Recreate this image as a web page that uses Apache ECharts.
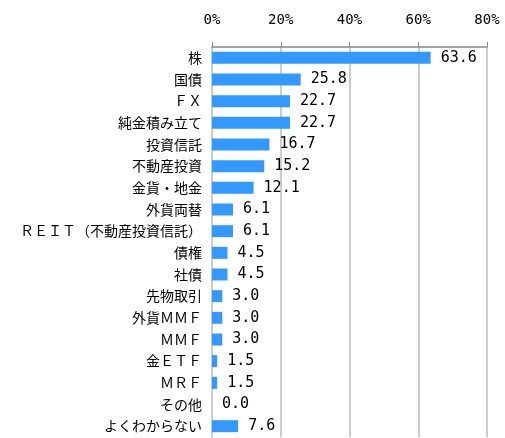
<!DOCTYPE html>
<html>
<head>
<meta charset="utf-8">
<script src="https://cdn.jsdelivr.net/npm/echarts@6/dist/echarts.min.js"></script>
<style>
  html, body { margin: 0; padding: 0; background: #fff; }
  #chart { width: 505px; height: 438px; }
</style>
</head>
<body>
<div id="chart"></div>
<script>
// 項目名（上から順）
const categories = [
  '株', '国債', 'ＦＸ', '純金積み立て', '投資信託', '不動産投資', '金貨・地金',
  '外貨両替', 'ＲＥＩＴ（不動産投資信託）', '債権', '社債', '先物取引',
  '外貨ＭＭＦ', 'ＭＭＦ', '金ＥＴＦ', 'ＭＲＦ', 'その他', 'よくわからない'
]
// 割合（%）
const values = [63.6, 25.8, 22.7, 22.7, 16.7, 15.2, 12.1, 6.1, 6.1, 4.5, 4.5, 3.0, 3.0, 3.0, 1.5, 1.5, 0.0, 7.6]
// 目盛り
const xTicks = [0, 20, 40, 60, 80]

const chart = echarts.init(document.getElementById('chart'))

const option = {
  animation: false,
  grid: {
    left: 212,
    right: 18,
    top: 47,
    bottom: 1
  },
  xAxis: {
    type: 'value',
    position: 'top',
    min: xTicks[0],
    max: xTicks[xTicks.length - 1],
    interval: xTicks[1] - xTicks[0],
    axisLine: { show: true, lineStyle: { color: '#888', width: 1.5 } },
    axisTick: { show: true, length: 5, lineStyle: { color: '#888' } },
    splitLine: { show: true, lineStyle: { color: '#bbb', width: 1.5 } },
    axisLabel: {
      formatter: '{value}%',
      color: '#000',
      fontSize: 14,
      fontFamily: 'DejaVu Sans Mono',
      margin: 20
    }
  },
  yAxis: {
    type: 'category',
    inverse: true,
    data: categories,
    axisLine: { show: true, lineStyle: { color: '#ccc', width: 2 } },
    axisTick: { show: false },
    axisLabel: {
      color: '#000',
      fontSize: 14,
      fontFamily: 'Noto Sans CJK JP',
      margin: 10,
      interval: 0
    }
  },
  series: [
    {
      type: 'bar',
      data: values,
      barWidth: 12,
      itemStyle: { color: '#3399ff' },
      label: {
        show: true,
        position: 'right',
        distance: 10,
        color: '#000',
        fontSize: 15,
        fontFamily: 'DejaVu Sans Mono',
        formatter: (p) => p.value.toFixed(1)
      }
    }
  ]
}
chart.setOption(option)
</script>
</body>
</html>
